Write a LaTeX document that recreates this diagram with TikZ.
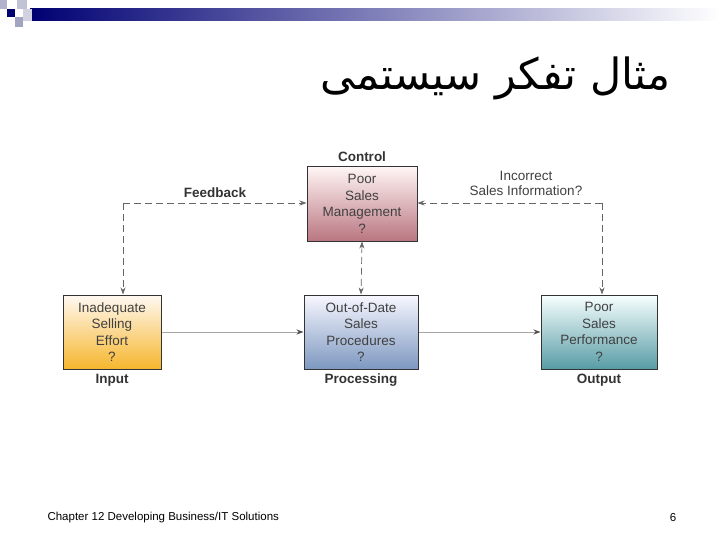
\documentclass[tikz,border=0pt]{standalone}
\usepackage{fontspec}
\setmainfont{Liberation Sans}
\newfontfamily\arabicfont[Script=Arabic]{DejaVu Sans}
\TeXXeTstate=1
\usetikzlibrary{arrows.meta}
\begin{document}
\begin{tikzpicture}[x=1pt,y=-1pt,
  box/.style={draw=black!80,line width=1pt,align=center,font=\fontsize{13.5}{16.5}\selectfont,text=black!75,minimum height=74pt,inner sep=0pt},
  lbl/.style={font=\fontsize{13.5}{15}\selectfont\bfseries,text=black!80},
  fb/.style={dashed,dash pattern=on 7pt off 4pt,draw=black!60,line width=0.7pt},
  tip/.style={-{Stealth[length=7pt,width=5pt]}},
  flow/.style={draw=black!35,line width=1pt,-{Stealth[length=7pt,width=5pt,color=black!70]}}]
\useasboundingbox (0,0) rectangle (720,540);
\fill[white] (0,0) rectangle (720,540);
% header
\shade[left color=blue!45!black, right color=white] (30,9) rectangle (720,21);
\fill[blue!45!black] (7,9) rectangle (15,17);
\fill[blue!20!gray!50] (0,0) rectangle (7,9);
\fill[blue!20!gray!40] (17,0) rectangle (27,9);
\fill[blue!20!gray!60] (15,17) rectangle (23,27);
\fill[blue!20!gray!30] (23,9) rectangle (32,21);
\node[anchor=east,font=\arabicfont\fontsize{43}{48}\selectfont] (title) at (674,78) {\beginR مثال تفکر سیستمی\endR};
% boxes
\node[box,minimum width=110pt,top color=red!4,bottom color={rgb,255:red,185;green,118;blue,128}] (ctl) at (362,204) {Poor\\Sales\\Management\\?};
\node[box,minimum width=98pt,top color=orange!5,bottom color={rgb,255:red,246;green,182;blue,45}] (inp) at (112,332) {Inadequate\\Selling\\Effort\\?};
\node[box,minimum width=114pt,top color=blue!3,bottom color={rgb,255:red,125;green,152;blue,192}] (prc) at (361,332) {Out-of-Date\\Sales\\Procedures\\?};
\node[box,minimum width=116pt,top color=cyan!3,bottom color={rgb,255:red,88;green,156;blue,165}] (out) at (599,332) {Poor\\Sales\\Performance\\?};
\node[lbl] (lc) at (362,157) {Control};
\node[lbl] (li) at (112,380) {Input};
\node[lbl] (lp) at (361,380) {Processing};
\node[lbl] (lo) at (599,380) {Output};
\node[lbl] (lf) at (215,193) {Feedback};
\node[align=center,font=\fontsize{13.5}{15}\selectfont,text=black!75] (inc) at (526,183) {Incorrect\\Sales Information?};
% connectors
\coordinate (cl) at (123,203);
\coordinate (cr) at (602,203);
\draw[fb,tip] (cl) -- (ctl.west|-cl);
\draw[fb,tip] (cl) -- (inp.north-|cl);
\draw[fb,tip] (cr) -- (ctl.east|-cr);
\draw[fb,tip] (cr) -- (out.north-|cr);
\draw[fb,{Stealth[length=7pt,width=5pt]}-{Stealth[length=7pt,width=5pt]}] (ctl.south) -- (prc.north);
\draw[flow] (inp) -- (prc);
\draw[flow] (prc) -- (out);
% footer
\node[anchor=west,font=\fontsize{11.5}{13}\selectfont] (foot) at (44,518) {Chapter 12 Developing Business/IT Solutions};
\node[font=\fontsize{11.5}{13}\selectfont] (pg) at (673,518) {6};
\end{tikzpicture}
\end{document}
